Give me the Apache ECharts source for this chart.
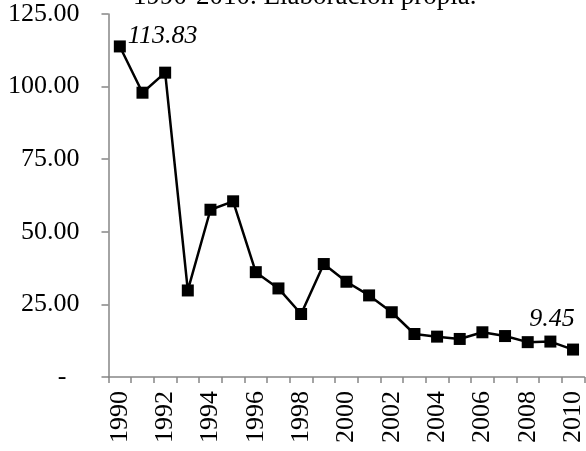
<!DOCTYPE html>
<html><head><meta charset="utf-8">
<script src="https://cdn.jsdelivr.net/npm/echarts@6/dist/echarts.min.js"></script>
<style>html,body{margin:0;padding:0;background:#fff}#c{width:586px;height:451px}</style>
</head><body><div id="c"></div>
<script>
var years = ['1990','1991','1992','1993','1994','1995','1996','1997','1998','1999','2000','2001','2002','2003','2004','2005','2006','2007','2008','2009','2010'];
var values = [113.83,97.9,104.8,29.8,57.6,60.5,36.1,30.5,21.7,38.9,32.8,28.1,22.3,14.8,13.9,13.1,15.4,14.1,12.0,12.2,9.45];
var titleText = '1990-2010. Elaboración propia.';
var FONT = '"Liberation Serif", "Times New Roman", serif';
var chart = echarts.init(document.getElementById('c'));
var data = values.map(function(v, i){
  var d = {value: v};
  if (i === 0) d.label = {show: true, position: 'right', offset: [-3, -10], formatter: '113.83'};
  if (i === values.length - 1) d.label = {show: true, position: 'top', offset: [-21, -6], formatter: '9.45'};
  return d;
});
chart.setOption({
  animation: false,
  backgroundColor: '#fff',
  graphic: [{type: 'text', left: 133, top: -17, style: {text: titleText, font: '27px ' + FONT, fill: '#000'}}],
  grid: {left: 108.5, right: 0, top: 14, bottom: 74, containLabel: false},
  xAxis: {
    type: 'category', data: years, boundaryGap: true,
    axisLine: {lineStyle: {color: '#868686', width: 1.5}},
    axisTick: {show: true, interval: 0, length: 6, lineStyle: {color: '#868686', width: 1.5}},
    axisLabel: {interval: 1, rotate: 90, margin: 14, color: '#000', fontFamily: FONT, fontSize: 26}
  },
  yAxis: {
    type: 'value', min: 0, max: 125, interval: 25,
    splitLine: {show: false},
    axisLine: {show: true, lineStyle: {color: '#868686', width: 1.5}},
    axisTick: {show: true, length: 7, lineStyle: {color: '#868686', width: 1.5}},
    axisLabel: {margin: 29, color: '#000', fontFamily: FONT, fontSize: 26,
      formatter: function(v){ return v === 0 ? '-  ' : v.toFixed(2); }}
  },
  series: [{
    type: 'line', data: data, symbol: 'rect', symbolSize: 12,
    lineStyle: {color: '#000', width: 2.5}, itemStyle: {color: '#000'},
    label: {show: false, color: '#000', fontFamily: FONT, fontSize: 26, fontStyle: 'italic'}
  }]
});
</script></body></html>
